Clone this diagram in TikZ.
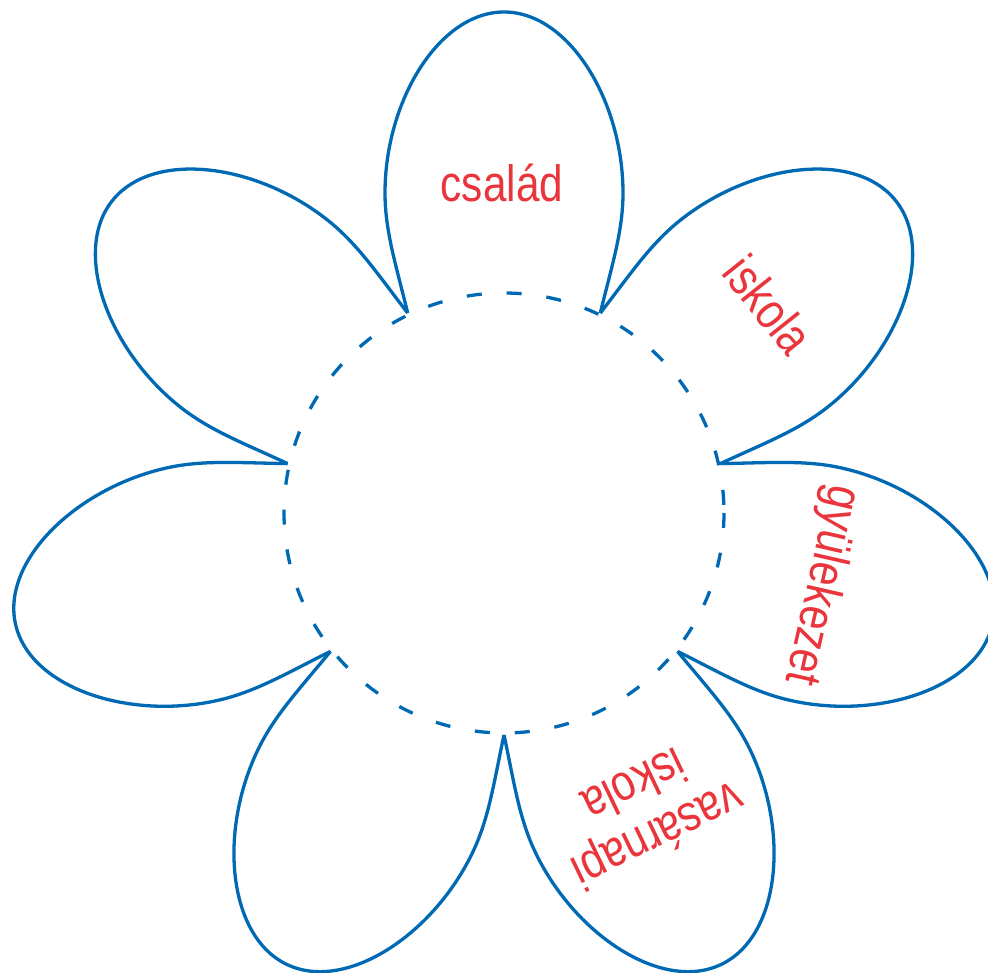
\documentclass[tikz,border=0pt]{standalone}
\usepackage{fontspec}
\setmainfont{Liberation Sans}
\usepackage{graphicx}
\definecolor{petal}{HTML}{0069B4}
\definecolor{lab}{HTML}{E9353B}
\begin{document}
\begin{tikzpicture}[x=1pt,y=1pt,
  petalline/.style={draw=petal, line width=3.3pt, line join=round},
  ringline/.style={draw=petal, line width=3.3pt, dash pattern=on 15pt off 24.98pt},
  lbl/.style={text=lab, font=\fontsize{51}{56}\selectfont, inner sep=0pt, align=center}]
\useasboundingbox (0,0) rectangle (988,972);
\clip (0,0) rectangle (988,972);
\coordinate (c) at (504,459);
\foreach \a [evaluate=\a as \r using \a-90] in {90, 38.571, -12.857, -64.286, -115.714, -167.143, 141.429} {
  \begin{scope}[shift={(c)}, rotate=\r]
  \draw[petalline] (-96.3,200) .. controls (-108,248) and (-119,282) .. (-119,320)
     .. controls (-119,412) and (-65,501) .. (0,501)
     .. controls (65,501) and (119,412) .. (119,320)
     .. controls (119,282) and (108,248) .. (96.3,200);
  \end{scope}
}
\draw[ringline] (724,459) arc[start angle=0, end angle=-360, radius=220];
\node[lbl, anchor=base] (t1) at (502,770.5) {\scalebox{.83}[1]{család}};
\node[lbl, anchor=base, rotate=-51.43] (t2) at (754,656) {\scalebox{.83}[1]{iskola}};
\node[lbl, anchor=base, rotate=-102.857] (t3) at (808.2,389.6) {\scalebox{.83}[1]{gyülekezet}};
\node[lbl, rotate=-154.286] (t4) at (647,160) {\scalebox{.83}[1]{vasárnapi}\\\scalebox{.83}[1]{iskola}};
\end{tikzpicture}
\end{document}
